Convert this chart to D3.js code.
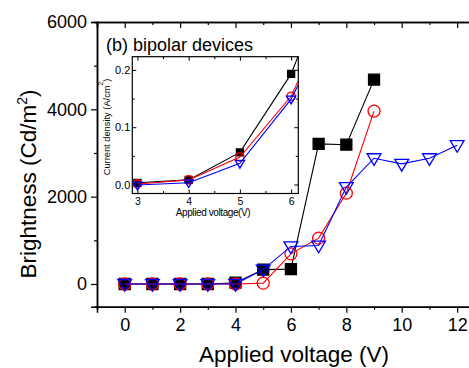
<!DOCTYPE html>
<html>
<head>
<meta charset="utf-8">
<script src="https://cdn.jsdelivr.net/npm/d3@7"></script>
<style>
  body { margin: 0; background: #fff; }
  text { font-family: "Liberation Sans", Arial, sans-serif; }
</style>
</head>
<body>
<div id="chart"></div>
<script>
'use strict';

// main panel: brightness vs voltage
var voltage = [0, 1, 2, 3, 4, 5, 6, 7, 8, 9, 10, 11, 12];
var brightSquare = [0, 0, 0, 0, 30, 330, 340, 3210, 3190, 4680];
var brightCircle = [0, 0, 0, 0, 0, 20, 690, 1050, 2080, 3960];
var brightTriangle = [0, 0, 0, 0, 0, 330, 860, 880, 2220, 2880, 2750, 2880, 3180];
var mainXTicks = [0, 2, 4, 6, 8, 10, 12];
var mainYTicks = [0, 2000, 4000, 6000];

// inset: current density vs voltage
var insetVoltage = [3, 4, 5, 6, 7];
var currentSquare = [0.003, 0.008, 0.056, 0.193, 0.42];
var currentCircle = [0.001, 0.008, 0.048, 0.154, 0.35];
var currentTriangle = [-0.001, 0.003, 0.037, 0.149, 0.33];
var insetXTicks = [3, 4, 5, 6];
var insetYTicks = [0, 0.1, 0.2];

var W = 469, H = 368;
var svg = d3.select("#chart").append("svg")
    .attr("width", W).attr("height", H);

var x = d3.scaleLinear().domain([-1, 12.5]).range([97, 471]);
var y = d3.scaleLinear().domain([-520, 6000]).range([306.7, 22]);

function pairs(xs, ys) {
    return ys.map(function (v, i) { return [xs[i], v]; });
}

// axes
svg.append("g").attr("transform", "translate(0," + y.range()[0] + ")")
    .call(d3.axisBottom(x).tickValues(mainXTicks).tickSize(6).tickPadding(6).tickFormat(d3.format("d")))
    .call(function (g) { g.selectAll("text").attr("font-size", 18); });
svg.append("g").attr("transform", "translate(0," + y.range()[0] + ")")
    .call(d3.axisBottom(x).tickValues(d3.range(-1, 13, 2)).tickSize(3).tickFormat(""));
svg.append("g").attr("transform", "translate(0," + y.range()[1] + ")")
    .call(d3.axisBottom(x).tickValues(mainXTicks).tickSize(6).tickFormat(""));
svg.append("g").attr("transform", "translate(0," + y.range()[1] + ")")
    .call(d3.axisBottom(x).tickValues(d3.range(-1, 13, 2)).tickSize(3).tickFormat(""));

svg.append("g").attr("transform", "translate(" + x.range()[0] + ",0)")
    .call(d3.axisLeft(y).tickValues(mainYTicks).tickSize(6).tickPadding(4).tickFormat(d3.format("d")))
    .call(function (g) { g.selectAll("text").attr("font-size", 18); });
svg.append("g").attr("transform", "translate(" + x.range()[0] + ",0)")
    .call(d3.axisLeft(y).tickValues([1000, 3000, 5000]).tickSize(3).tickFormat(""));

svg.selectAll(".domain").attr("stroke-width", 1.5);
svg.selectAll(".tick line").attr("stroke-width", 1.2);
svg.selectAll(".tick text").attr("font-family", "Liberation Sans, Arial, sans-serif");

// titles
svg.append("text").attr("x", 294).attr("y", 362).attr("text-anchor", "middle")
    .attr("font-size", 22.5).text("Applied voltage (V)");
var yt = svg.append("text").attr("transform", "translate(36,184) rotate(-90)")
    .attr("text-anchor", "middle").attr("font-size", 22.5);
yt.append("tspan").text("Brightness (Cd/m");
yt.append("tspan").attr("font-size", 14).attr("dy", -9).text("2");
yt.append("tspan").attr("dy", 9).text(")");

svg.append("text").attr("x", 106).attr("y", 51).attr("font-size", 18)
    .text("(b)  bipolar devices");

// series
var line = d3.line().x(function (d) { return x(d[0]); }).y(function (d) { return y(d[1]); });

function drawSeries(g, data, color, shape, ln, sx, sy, size) {
    g.append("path").datum(data).attr("d", ln)
        .attr("fill", "none").attr("stroke", color).attr("stroke-width", 1.1);
    g.selectAll(null).data(data).enter().append("path")
        .attr("transform", function (d) { return "translate(" + sx(d[0]) + "," + sy(d[1]) + ")"; })
        .attr("d", function () {
            var s = size;
            if (shape === "square") return "M" + (-s) + "," + (-s) + "h" + (2 * s) + "v" + (2 * s) + "h" + (-2 * s) + "Z";
            if (shape === "circle") return d3.symbol(d3.symbolCircle, Math.PI * s * s)();
            return "M" + (-s * 1.15) + "," + (-s * 0.75) + "L" + (s * 1.15) + "," + (-s * 0.75) + "L0," + (s * 1.2) + "Z";
        })
        .attr("fill", shape === "square" ? color : "none")
        .attr("stroke", color).attr("stroke-width", 1.3);
}

var main = svg.append("g");
drawSeries(main, pairs(voltage, brightSquare), "#000", "square", line, x, y, 5.5);
drawSeries(main, pairs(voltage, brightCircle), "#ff0000", "circle", line, x, y, 6);
drawSeries(main, pairs(voltage, brightTriangle), "#0000ff", "triangle", line, x, y, 6);

// inset
var ix = d3.scaleLinear().domain([2.9, 6.14]).range([132.3, 298.3]);
var iy = d3.scaleLinear().domain([-0.0157, 0.223]).range([193.5, 56.7]);

var inset = svg.append("g");
inset.append("rect").attr("x", ix.range()[0]).attr("y", iy.range()[1])
    .attr("width", ix.range()[1] - ix.range()[0]).attr("height", iy.range()[0] - iy.range()[1])
    .attr("fill", "#fff");
inset.append("clipPath").attr("id", "iclip").append("rect")
    .attr("x", ix.range()[0]).attr("y", iy.range()[1])
    .attr("width", ix.range()[1] - ix.range()[0]).attr("height", iy.range()[0] - iy.range()[1]);

var ib = iy.range()[0], itp = iy.range()[1], il = ix.range()[0], ir = ix.range()[1];
inset.append("g").attr("transform", "translate(0," + ib + ")")
    .call(d3.axisTop(ix).tickValues(insetXTicks).tickSize(4).tickFormat(""));
inset.append("g").attr("transform", "translate(0," + ib + ")")
    .call(d3.axisBottom(ix).tickValues(insetXTicks).tickSize(0).tickPadding(4).tickFormat(d3.format("d")))
    .call(function (g) { g.selectAll("text").attr("font-size", 10.5); });
inset.append("g").attr("transform", "translate(0," + ib + ")")
    .call(d3.axisTop(ix).tickValues([3.5, 4.5, 5.5]).tickSize(2.5).tickFormat(""));
inset.append("g").attr("transform", "translate(0," + itp + ")")
    .call(d3.axisBottom(ix).tickValues(insetXTicks).tickSize(4).tickFormat(""));
inset.append("g").attr("transform", "translate(0," + itp + ")")
    .call(d3.axisBottom(ix).tickValues([3.5, 4.5, 5.5]).tickSize(2.5).tickFormat(""));
inset.append("g").attr("transform", "translate(" + il + ",0)")
    .call(d3.axisRight(iy).tickValues(insetYTicks).tickSize(4).tickFormat(""));
inset.append("g").attr("transform", "translate(" + il + ",0)")
    .call(d3.axisLeft(iy).tickValues(insetYTicks).tickSize(0).tickPadding(2).tickFormat(d3.format(".1f")))
    .call(function (g) { g.selectAll("text").attr("font-size", 11); });
inset.append("g").attr("transform", "translate(" + il + ",0)")
    .call(d3.axisRight(iy).tickValues([0.05, 0.15]).tickSize(2.5).tickFormat(""));
inset.append("g").attr("transform", "translate(" + ir + ",0)")
    .call(d3.axisLeft(iy).tickValues(insetYTicks).tickSize(4).tickFormat(""));
inset.append("g").attr("transform", "translate(" + ir + ",0)")
    .call(d3.axisLeft(iy).tickValues([0.05, 0.15]).tickSize(2.5).tickFormat(""));
inset.selectAll(".domain").remove();
inset.selectAll(".tick text").attr("font-family", "Liberation Sans, Arial, sans-serif");
inset.append("rect").attr("x", il).attr("y", itp).attr("width", ir - il).attr("height", ib - itp)
    .attr("fill", "none").attr("stroke", "#000").attr("stroke-width", 1.2);

inset.append("text").attr("x", 213).attr("y", 216).attr("text-anchor", "middle")
    .attr("font-size", 10).attr("letter-spacing", -0.4).text("Applied voltage(V)");
var iyt = inset.append("text").attr("transform", "translate(110,127) rotate(-90)")
    .attr("text-anchor", "middle").attr("font-size", 9.3);
iyt.append("tspan").text("Current density (A/cm");
iyt.append("tspan").attr("font-size", 6.5).attr("dy", -7).text("2");
iyt.append("tspan").attr("dy", 7).text(")");

var iline = d3.line().x(function (d) { return ix(d[0]); }).y(function (d) { return iy(d[1]); });
var idata = inset.append("g").attr("clip-path", "url(#iclip)");
drawSeries(idata, pairs(insetVoltage, currentSquare), "#000", "square", iline, ix, iy, 3.5);
drawSeries(idata, pairs(insetVoltage, currentCircle), "#ff0000", "circle", iline, ix, iy, 4.2);
drawSeries(idata, pairs(insetVoltage, currentTriangle), "#0000ff", "triangle", iline, ix, iy, 4);
</script>
</body>
</html>
